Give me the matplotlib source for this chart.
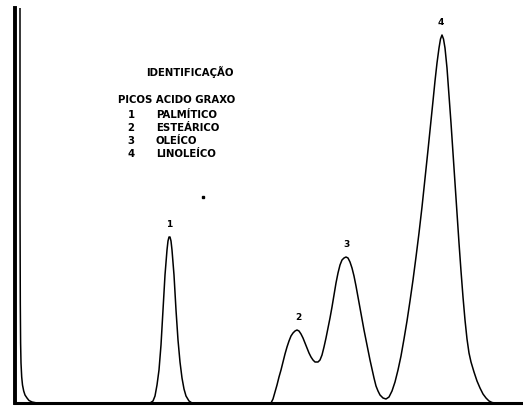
import matplotlib
matplotlib.use("Agg")
import matplotlib.pyplot as plt

# Chromatogram trace (retention in arbitrary units, detector response in arbitrary units)
retention = [
    5, 5, 5.3, 5.6, 6, 6.7, 7.5, 8.7, 10, 12, 14, 17, 22, 60, 120, 135,
    # peak 1
    138, 140, 142, 144, 146, 148, 150, 152, 153, 154, 155, 156, 157, 159, 161, 163, 165, 167, 169, 171, 174, 177, 200, 256,
    # peak 2
    258, 260, 262, 264, 266, 268, 270, 272, 274, 276, 278, 280, 282, 284, 286, 288, 290, 292, 294, 296, 298, 300,
    # peak 3
    303, 305, 307, 309, 311, 313, 315, 317, 319, 321, 323, 325, 327, 329, 331, 333, 335, 337, 339, 341, 343, 345,
    347, 349, 351, 353, 355, 357, 359, 361, 363, 365, 368, 371,
    # peak 4
    374, 377, 380, 383, 386, 389, 392, 395, 398, 401, 404, 407, 410, 413, 416, 418, 420, 422, 424, 425.5, 427,
    428.5, 430, 432, 434, 436, 438, 440, 442, 444, 446, 448, 450, 452, 454, 456, 459, 462, 465, 468, 471, 474,
    477, 480, 508,
]
response = [
    460, 200, 100, 60, 40, 26, 18, 12, 8, 5, 2.5, 1, 0, 0, 0, 0,
    # peak 1
    2, 7, 18, 33, 58, 93, 128, 153, 162, 166, 166, 162, 153, 128, 93, 63, 41, 25, 14, 7, 2, 0, 0, 0,
    # peak 2
    4, 11, 18, 26, 33, 41, 49, 56, 62, 67, 70, 72, 73, 72, 69, 65, 60, 55, 50, 46, 43, 41,
    # peak 3
    41, 43, 48, 56, 65, 75, 85, 96, 108, 120, 130, 138, 143, 145, 146, 145, 141, 135, 127, 117, 106, 95,
    84, 73, 63, 53, 43, 34, 25, 17, 12, 8, 5, 4,
    # peak 4
    6, 12, 21, 33, 47, 64, 82, 102, 123, 146, 170, 196, 224, 253, 282, 302, 322, 340, 355, 364, 368,
    364, 355, 335, 308, 280, 250, 220, 190, 160, 132, 106, 83, 64, 50, 41, 31, 22, 15, 9, 5, 2,
    0.5, 0, 0,
]

peak_labels = ["1", "2", "3", "4"]
peak_apex_x = [154.5, 283, 331, 426]
peak_apex_y = [166, 73, 146, 368]

speck_x = [188]
speck_y = [206]

legend_title = "IDENTIFICAÇÃO"
legend_header = "PICOS ACIDO GRAXO"
legend_numbers = ["1", "2", "3", "4"]
legend_names = ["PALMÍTICO", "ESTEÁRICO", "OLEÍCO", "LINOLEÍCO"]

W, H = 523, 407
fig = plt.figure(figsize=(W / 100, H / 100), dpi=100)
ax = fig.add_axes([15 / W, (H - 403) / H, (W - 15) / W, (403 - 8) / H])
ax.set_xlim(0, 508)
ax.set_ylim(0, 395)

ax.plot(retention, response, color="black", lw=1.1, solid_joinstyle="round")
ax.plot(speck_x, speck_y, marker="s", color="black", markersize=2, linestyle="none")

for lab, x, y in zip(peak_labels, peak_apex_x, peak_apex_y):
    ax.text(x, y + 8, lab, ha="center", va="bottom", fontsize=6.5, fontweight="bold")

font = dict(fontsize=7.3, fontweight="bold", family="DejaVu Sans")
ax.text(175, 331, legend_title, ha="center", va="center", **font)
ax.text(103, 303, legend_header, ha="left", va="center", **font)
for i, (n, name) in enumerate(zip(legend_numbers, legend_names)):
    y = 288 - 13 * i
    ax.text(116, y, n, ha="center", va="center", **font)
    ax.text(141, y, name, ha="left", va="center", **font)

for s in ["top", "right"]:
    ax.spines[s].set_visible(False)
ax.spines["left"].set_linewidth(2.8)
ax.spines["bottom"].set_linewidth(2.2)
ax.set_xticks([])
ax.set_yticks([])

fig.savefig("out.png", dpi=100)
